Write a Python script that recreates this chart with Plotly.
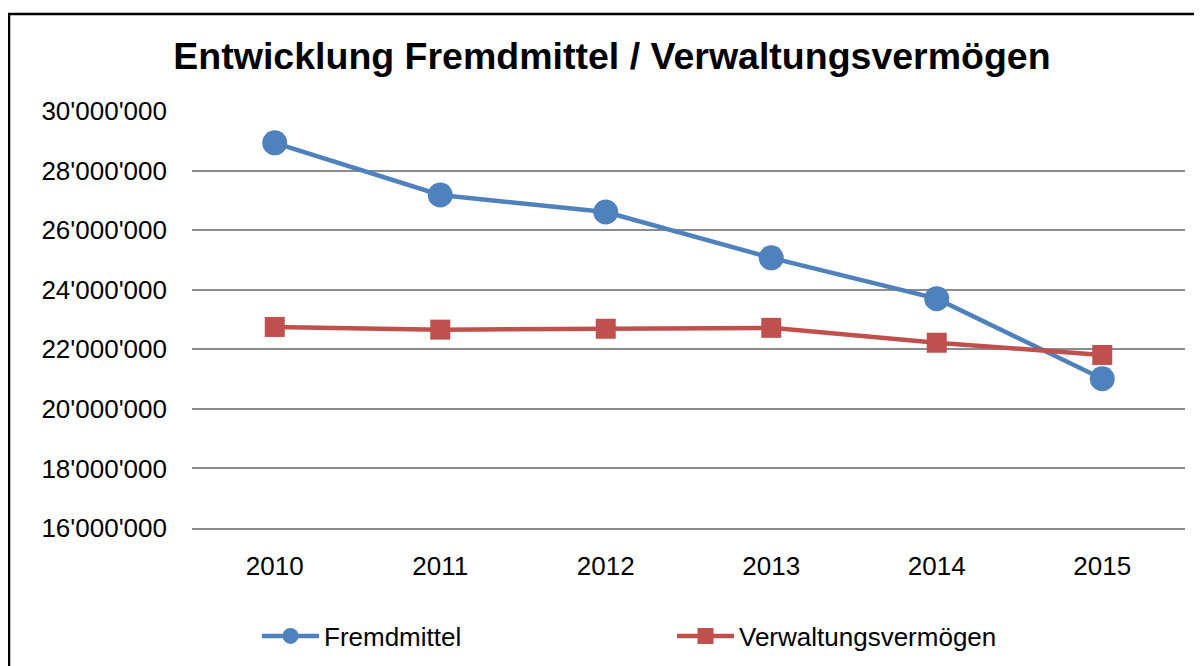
import plotly.graph_objects as go

years = ["2010", "2011", "2012", "2013", "2014", "2015"]
fremdmittel = [28930000, 27180000, 26610000, 25070000, 23700000, 21010000]
verwaltungsvermoegen = [22750000, 22660000, 22690000, 22720000, 22220000, 21810000]

blue = "#4F81BD"
red = "#C0504D"
grid = "#8C8C8C"
font_family = "Liberation Sans, Arial, sans-serif"

fig = go.Figure()
fig.add_trace(go.Scatter(
    x=years, y=fremdmittel, name="Fremdmittel", mode="lines+markers",
    line=dict(color=blue, width=4.5),
    marker=dict(symbol="circle", size=25, color=blue),
))
fig.add_trace(go.Scatter(
    x=years, y=verwaltungsvermoegen, name="Verwaltungsvermögen", mode="lines+markers",
    line=dict(color=red, width=4.5),
    marker=dict(symbol="square", size=20, color=red),
))

W, H = 1202, 666
OFF = 8  # page body margin offset
# desired on-screen plot area
SX0, SX1, SY0, SY1 = 192, 1185, 111, 528
L = SX0 - OFF
T = SY0 - OFF
R = W + OFF - SX1
B = H + OFF - SY1
pw, ph = SX1 - SX0, SY1 - SY0

def px_x(v):
    return (v - SX0) / pw

def px_y(v):
    return (SY1 - v) / ph

fig.update_layout(
    width=W, height=H,
    margin=dict(l=L, r=R, t=T, b=B, autoexpand=False),
    paper_bgcolor="white", plot_bgcolor="white",
    separators=".'",
    font=dict(family=font_family, size=26, color="black"),
    title=dict(
        text="<b>Entwicklung Fremdmittel / Verwaltungsvermögen</b>",
        x=(612 - OFF) / W, xanchor="center", y=1 - (56 - OFF) / H, yanchor="middle",
        font=dict(family=font_family, size=37.5, color="black"),
    ),
    xaxis=dict(
        type="category", range=[-0.5, 5.5], showgrid=False, zeroline=False,
        showline=True, linecolor=grid, linewidth=1.5, ticks="", ticklabelstandoff=14,
        tickfont=dict(size=26),
    ),
    yaxis=dict(
        range=[16000000, 30000000], dtick=2000000, tickformat=",d",
        showgrid=True, gridcolor=grid, gridwidth=1.5, zeroline=False,
        showline=False, ticks="", ticklabelstandoff=24,
        tickfont=dict(size=26),
    ),
    legend=dict(
        orientation="h", x=px_x(257), xanchor="left", y=px_y(636), yanchor="middle",
        font=dict(size=26), itemwidth=57, entrywidth=343, entrywidthmode="pixels",
        bgcolor="rgba(0,0,0,0)", tracegroupgap=0,
    ),
    showlegend=True,
)

fig.add_shape(
    type="rect", xref="paper", yref="paper",
    x0=px_x(9), x1=px_x(1300), y0=px_y(760), y1=px_y(14),
    line=dict(color="black", width=2.5), fillcolor="rgba(0,0,0,0)", layer="above",
)

fig.write_html("out.html")
